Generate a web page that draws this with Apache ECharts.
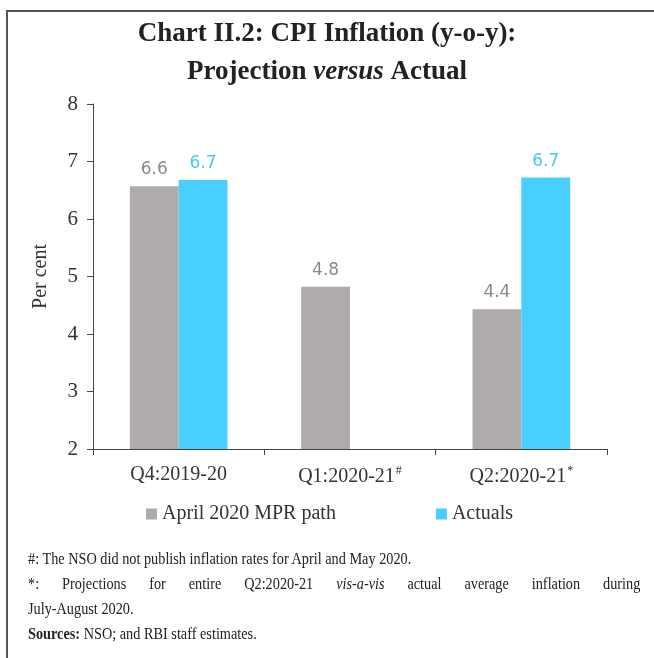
<!DOCTYPE html>
<html>
<head>
<meta charset="utf-8">
<script src="https://cdn.jsdelivr.net/npm/echarts@6/dist/echarts.min.js"></script>
<style>
  html, body { margin: 0; padding: 0; background: #fff; }
  #wrap { position: relative; width: 654px; height: 658px; overflow: hidden; }
  #frame {
    position: absolute; left: 6px; top: 10px; width: 660px; height: 660px;
    border-left: 2px solid #555; border-top: 2px solid #555;
  }
  #chart { position: absolute; left: 0; top: 0; width: 654px; height: 658px; }
  .notes {
    position: absolute; left: 28px; top: 546px; width: 729px;
    font-family: 'Liberation Serif', serif; font-size: 17px; color: #222;
    line-height: 25px;
    transform: scaleX(0.84); transform-origin: 0 0;
  }
  .notes .just { text-align: justify; text-align-last: justify; }
</style>
</head>
<body>
<div id="wrap">
  <div id="frame"></div>
  <div id="chart"></div>
  <div class="notes">
    <div>#: The NSO did not publish inflation rates for April and May 2020.</div>
    <div class="just">*: Projections for entire Q2:2020-21 <i>vis-a-vis</i> actual average inflation during</div>
    <div>July-August 2020.</div>
    <div><b>Sources:</b> NSO; and RBI staff estimates.</div>
  </div>
</div>
<script>
const categories = ['Q4:2019-20', 'Q1:2020-21', 'Q2:2020-21']
const categoryMarks = ['', '#', '*']
const mprPath = [6.57, 4.82, 4.43]
const actuals = [6.68, null, 6.72]
const yTicks = { min: 2, max: 8, interval: 1 }

const serif = 'Liberation Serif'
const chart = echarts.init(document.getElementById('chart'))

const option = {
  animation: false,
  title: {
    text: '{b|Chart II.2: CPI Inflation (y-o-y):}\n{b|Projection }{i|versus}{b| Actual}',
    left: 'center',
    top: 10,
    textStyle: {
      rich: {
        b: { fontFamily: serif, fontWeight: 'bold', fontSize: 27, color: '#222', lineHeight: 38 },
        i: { fontFamily: serif, fontWeight: 'bold', fontStyle: 'italic', fontSize: 27, color: '#222', lineHeight: 38 }
      }
    }
  },
  legend: {
    left: 141,
    top: 499,
    icon: 'rect',
    itemWidth: 11,
    itemHeight: 11,
    itemGap: 100,
    textStyle: { fontFamily: serif, fontSize: 20, color: '#333' },
    data: ['April 2020 MPR path', 'Actuals']
  },
  grid: { left: 93, right: 47, top: 104, bottom: 209 },
  xAxis: {
    type: 'category',
    data: categories,
    axisLine: { lineStyle: { color: '#444', width: 1 } },
    axisTick: { show: true, length: 6, lineStyle: { color: '#444' } },
    axisLabel: {
      margin: 16,
      formatter: (v, i) => '{a|' + v + '}' + (categoryMarks[i] ? '{s|' + categoryMarks[i] + '}' : ''),
      rich: {
        a: { fontFamily: serif, fontSize: 20, color: '#333' },
        s: { fontFamily: serif, fontSize: 12, color: '#333', verticalAlign: 'top', padding: [0, 0, 12, 1] }
      }
    }
  },
  yAxis: {
    type: 'value',
    min: yTicks.min,
    max: yTicks.max,
    interval: yTicks.interval,
    name: 'Per cent',
    nameLocation: 'middle',
    nameGap: 42,
    nameTextStyle: { fontFamily: serif, fontSize: 20, color: '#333' },
    splitLine: { show: false },
    axisLine: { show: true, lineStyle: { color: '#444', width: 1 } },
    axisTick: { show: true, length: 6, lineStyle: { color: '#444' } },
    axisLabel: { fontFamily: serif, fontSize: 21, color: '#333', margin: 15 }
  },
  series: [
    {
      name: 'April 2020 MPR path',
      type: 'bar',
      data: mprPath,
      barGap: '0%',
      barCategoryGap: '43%',
      itemStyle: { color: '#afabaa' },
      label: {
        show: true,
        position: 'top',
        distance: 8,
        fontFamily: 'DejaVu Sans',
        fontSize: 17,
        color: '#8a8a8a',
        formatter: p => p.value.toFixed(1)
      }
    },
    {
      name: 'Actuals',
      type: 'bar',
      data: actuals,
      barGap: '0%',
      barCategoryGap: '43%',
      itemStyle: { color: '#48cfff' },
      label: {
        show: true,
        position: 'top',
        distance: 8,
        fontFamily: 'DejaVu Sans',
        fontSize: 17,
        color: '#48c8f5',
        formatter: p => (p.value == null ? '' : p.value.toFixed(1))
      }
    }
  ]
}
chart.setOption(option)
</script>
</body>
</html>
